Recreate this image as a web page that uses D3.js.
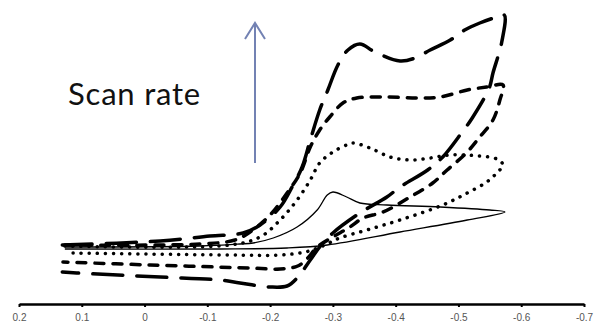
<!DOCTYPE html>
<html>
<head>
<meta charset="utf-8">
<script src="https://cdn.jsdelivr.net/npm/d3@7"></script>
<style>
  body { margin: 0; background: #fff; }
  #chart svg { display: block; }
</style>
</head>
<body>
<div id="chart"></div>
<script>
// potential (V) and current (arbitrary units), one cycle per scan rate
var potSolid = [0.127, -0.088, -0.152, -0.173, -0.205, -0.243, -0.275, -0.291, -0.300, -0.322, -0.343, -0.386, -0.471, -0.550, -0.574,
                -0.514, -0.407, -0.291, -0.227, -0.120, 0.127];
var curSolid = [5.7, 5.8, 6.0, 6.1, 6.6, 7.7, 9.4, 10.9, 11.2, 10.7, 10.1, 9.9, 9.7, 9.4, 9.2,
                8.4, 7.2, 5.9, 5.6, 5.5, 5.5];

var potDot = [0.127, -0.136, -0.184, -0.216, -0.243, -0.264, -0.279, -0.300, -0.322, -0.332, -0.359, -0.391, -0.423, -0.455, -0.487, -0.534, -0.561, -0.571,
              -0.561, -0.545, -0.514, -0.475, -0.407, -0.354, -0.311, -0.284, -0.256, -0.216, -0.136, 0.116];
var curDot = [5.8, 5.9, 6.7, 8.4, 10.4, 12.4, 14.1, 15.2, 15.9, 16.1, 15.6, 14.7, 14.4, 14.6, 14.9, 14.8, 14.5, 13.9,
              13.1, 12.2, 11.1, 9.9, 8.4, 7.4, 6.6, 5.8, 5.2, 4.9, 4.9, 5.1];

var potDash = [0.127, -0.088, -0.144, -0.168, -0.200, -0.227, -0.248, -0.264, -0.279, -0.295, -0.316, -0.338, -0.386, -0.434, -0.471, -0.514, -0.545, -0.571,
               -0.566, -0.555, -0.534, -0.514, -0.482, -0.459, -0.423, -0.380, -0.348, -0.327, -0.300, -0.275, -0.260, -0.244, -0.216, -0.168, -0.009, 0.130];
var curDash = [5.9, 6.0, 6.4, 7.2, 8.9, 11.1, 13.1, 15.7, 17.4, 18.7, 20.1, 20.6, 20.7, 20.6, 20.7, 21.4, 21.7, 21.9,
               20.4, 18.4, 16.7, 15.2, 13.4, 12.1, 10.7, 9.2, 8.6, 7.7, 6.7, 5.7, 4.6, 3.8, 3.5, 3.6, 3.9, 4.2];

var potLong = [0.131, -0.025, -0.104, -0.157, -0.184, -0.216, -0.235, -0.251, -0.264, -0.279, -0.292, -0.308, -0.324, -0.343, -0.367, -0.407, -0.431, -0.455, -0.487, -0.510, -0.534, -0.561, -0.573,
               -0.569, -0.555, -0.549, -0.522, -0.506, -0.475, -0.451, -0.407, -0.386, -0.343, -0.300, -0.279, -0.264, -0.243, -0.227, -0.200, -0.152, -0.120, -0.025, 0.108, 0.131];
var curLong = [5.9, 6.3, 6.8, 7.1, 7.9, 9.7, 11.7, 13.7, 16.4, 19.4, 21.4, 23.9, 25.4, 26.0, 25.2, 24.3, 24.6, 25.4, 26.4, 27.4, 28.1, 28.7, 28.9,
               26.2, 23.1, 21.6, 18.6, 17.2, 14.7, 13.4, 11.7, 10.7, 9.1, 7.1, 5.7, 4.4, 2.6, 1.8, 1.7, 2.1, 2.4, 2.7, 3.1, 3.2];

var tickVals = [0.2, 0.1, 0, -0.1, -0.2, -0.3, -0.4, -0.5, -0.6, -0.7];
var tickLabels = ["0.2", "0.1", "0", "-0.1", "-0.2", "-0.3", "-0.4", "-0.5", "-0.6", "-0.7"];

var width = 594;
var height = 324;

var x = d3.scaleLinear().domain([0.2, -0.7]).range([19, 584]);
var y = d3.scaleLinear().domain([0, 30]).range([304, 4]);

var svg = d3.select('#chart')
  .append('svg')
  .attr('width', width)
  .attr('height', height);

// the four curves, slowest scan rate first
var series = [
  {pot: potSolid, cur: curSolid, w: 1.3, dash: null, cap: 'butt'},
  {pot: potDot, cur: curDot, w: 3.5, dash: '0.1 8', cap: 'round'},
  {pot: potDash, cur: curDash, w: 3.5, dash: '9 9', cap: 'round'},
  {pot: potLong, cur: curLong, w: 3.5, dash: '30 14', cap: 'round'}
];

var line = d3.line()
  .x(function(d) { return x(d[0]); })
  .y(function(d) { return y(d[1]); })
  .curve(d3.curveCatmullRom.alpha(0.5));

series.forEach(function(s) {
  var pts = s.pot.map(function(p, i) { return [p, s.cur[i]]; });
  svg.append('path')
    .attr('d', line(pts))
    .attr('fill', 'none')
    .attr('stroke', '#000')
    .attr('stroke-width', s.w)
    .attr('stroke-linecap', s.cap)
    .attr('stroke-linejoin', 'round')
    .attr('stroke-dasharray', s.dash);
});

// x axis only
var axis = svg.append('g')
  .attr('transform', 'translate(0,' + y(0) + ')')
  .call(d3.axisBottom(x)
    .tickValues(tickVals)
    .tickSize(3)
    .tickSizeOuter(0)
    .tickFormat(function(d, i) { return tickLabels[i]; }));

axis.select('.domain').attr('stroke', '#000').attr('stroke-width', 2.5);
axis.selectAll('.tick line').attr('stroke', '#000').attr('stroke-width', 2);
axis.selectAll('.tick text')
  .attr('y', 10)
  .attr('fill', '#555')
  .style('font-family', '"Liberation Sans", Arial, sans-serif')
  .style('font-size', '10px');

// scan rate arrow
var arrowX = 255;
svg.append('line')
  .attr('x1', arrowX).attr('y1', 163)
  .attr('x2', arrowX).attr('y2', 23)
  .attr('stroke', '#7382b3')
  .attr('stroke-width', 2);
svg.append('path')
  .attr('d', 'M' + (arrowX - 10) + ',39 L' + arrowX + ',23 L' + (arrowX + 10) + ',39')
  .attr('fill', 'none')
  .attr('stroke', '#7382b3')
  .attr('stroke-width', 2);

svg.append('text')
  .attr('x', 68)
  .attr('y', 105)
  .attr('fill', '#111')
  .style('font-family', 'Lato, sans-serif')
  .style('font-size', '31px')
  .style('letter-spacing', '0.8px')
  .text('Scan rate');
</script>
</body>
</html>
